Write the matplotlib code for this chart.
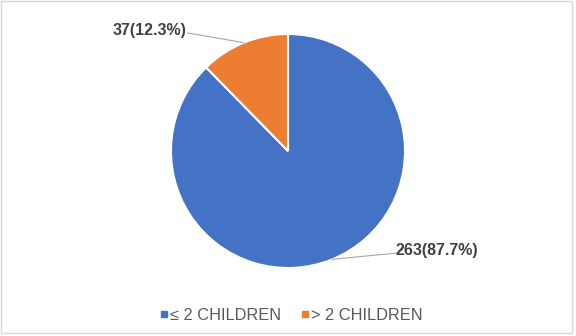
import matplotlib
matplotlib.use("Agg")
import matplotlib.pyplot as plt
import numpy as np

plt.rcParams['font.family'] = ['Liberation Sans', 'DejaVu Sans']

categories = ["\u2264 2 CHILDREN", "> 2 CHILDREN"]
counts = [263, 37]
percents = [87.7, 12.3]
colors = ["#4472C4", "#ED7D31"]

W, H = 576, 336
fig = plt.figure(figsize=(W / 100, H / 100), dpi=100)
ax = fig.add_axes([0, 0, 1, 1])

cx, cy, r = 288, 185, 117
wedges, _ = ax.pie(counts, colors=colors, startangle=90, counterclock=False,
                   center=(cx, cy), radius=r,
                   wedgeprops=dict(edgecolor="white", linewidth=1.5))

# data labels with leader lines from each wedge's mid-angle
label_pos = [(396, 86, "left"), (186, 306, "right")]
line_end = [(397, 83), (188, 303)]
for w, n, p, (tx, ty, ha), (lx, ly) in zip(wedges, counts, percents, label_pos, line_end):
    mid = np.deg2rad((w.theta1 + w.theta2) / 2)
    px, py = cx + r * np.cos(mid), cy + r * np.sin(mid)
    ax.plot([px, lx], [py, ly], color="#A6A6A6", lw=0.8, zorder=1)
    ax.text(tx, ty, f"{n}({p}%)", ha=ha, va="center", fontsize=11.5,
            fontweight="bold", color="#404040")

# legend
leg_x = [164, 305]
for x, cat, col in zip(leg_x, categories, colors):
    ax.plot([x], [H - 314], marker="s", ms=4, color=col, mec=col, ls="none")
    ax.text(x + 6, H - 315, cat, ha="left", va="center", fontsize=11.8, color="#595959")

# chart border
ax.add_patch(plt.Rectangle((1, H - 333), 571, 332, fill=False, ec="#D9D9D9", lw=1))

ax.set_xlim(0, W)
ax.set_ylim(0, H)
ax.set_aspect("equal")
ax.axis("off")
fig.savefig("out.png", dpi=100)
